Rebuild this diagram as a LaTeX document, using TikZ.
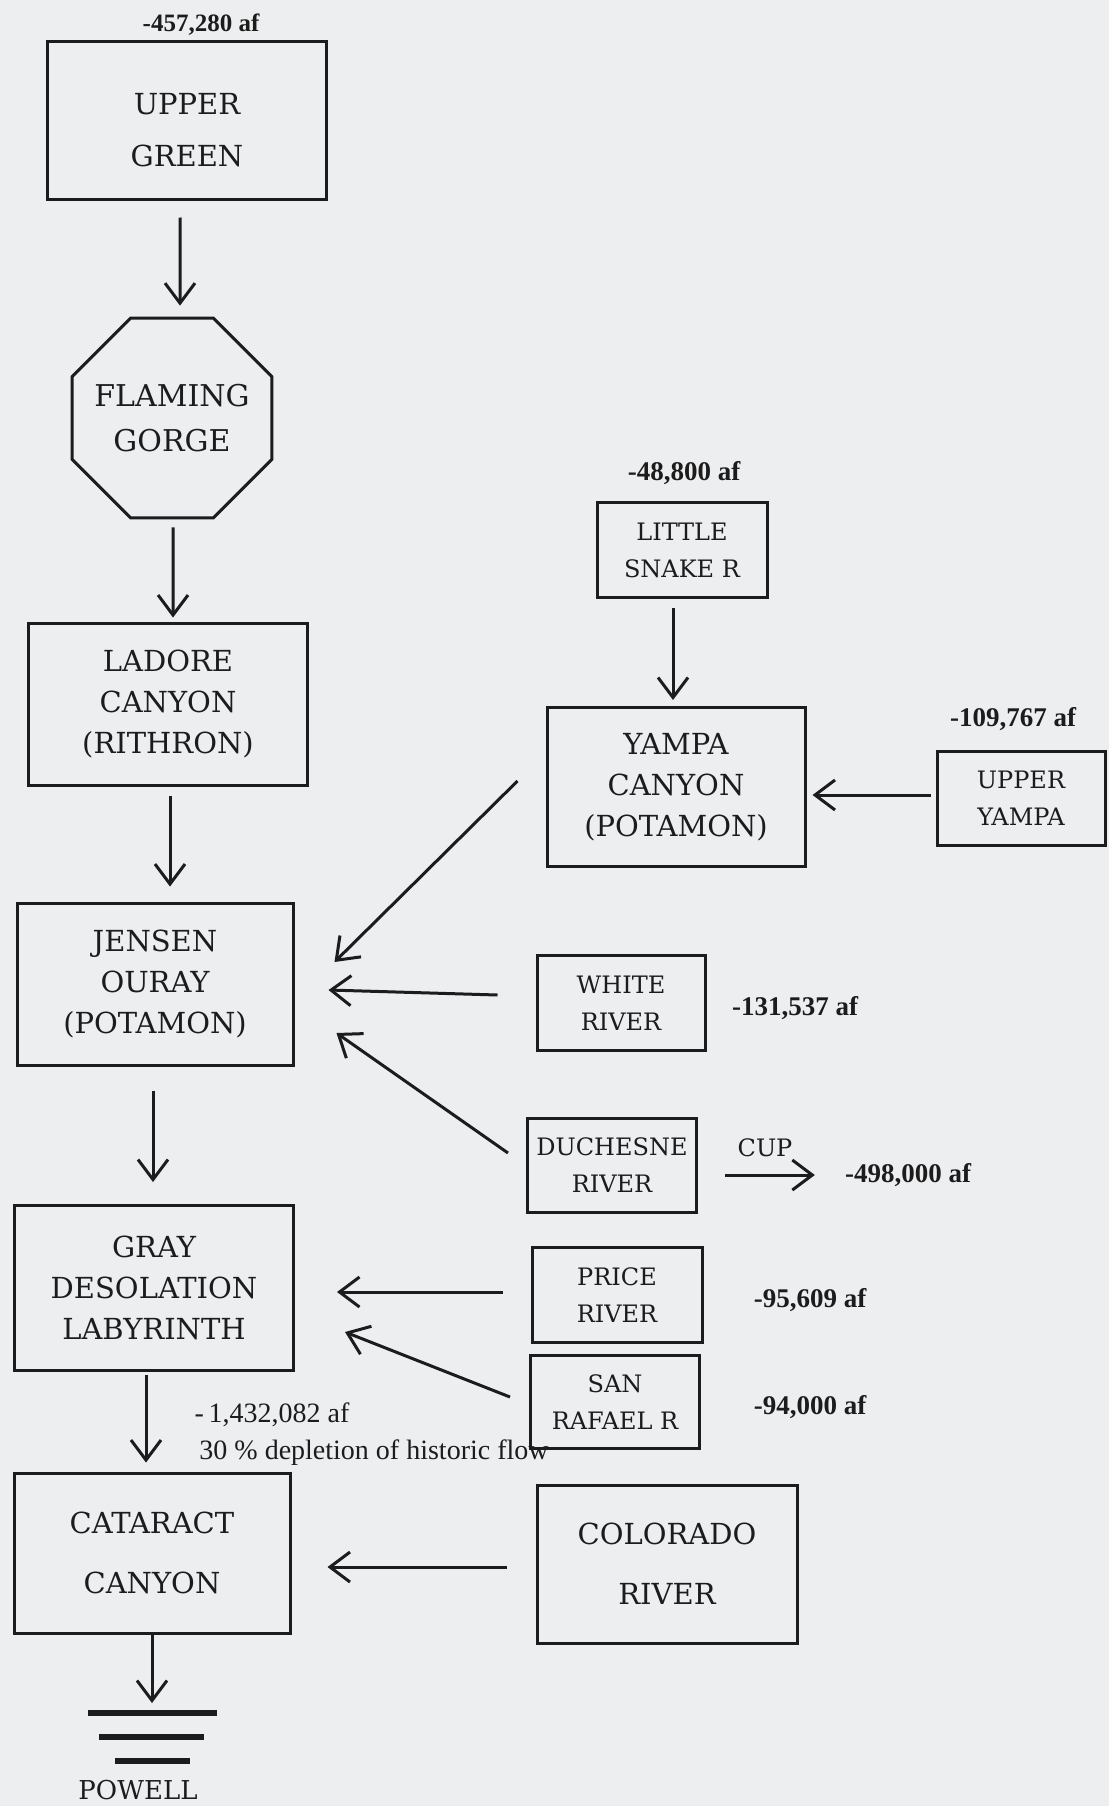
\documentclass[tikz,border=0pt]{standalone}
\usepackage{fontspec}
\setmainfont{DejaVu Serif}
\newfontfamily\amtfont{Liberation Serif}
\usetikzlibrary{arrows.meta,shapes.geometric}
\definecolor{pp}{RGB}{237, 238, 240}
\definecolor{kk}{RGB}{28, 28, 28}
\tikzset{
  bigbox/.style={rectangle, draw=kk, text=kk, line width=3pt, align=center, inner sep=0pt, font=\fontsize{29}{41}\selectfont},
  smallbox/.style={rectangle, draw=kk, text=kk, line width=3pt, align=center, inner sep=0pt, font=\fontsize{24}{37}\selectfont},
  amount/.style={inner sep=0pt, text=kk, font=\amtfont\bfseries\fontsize{27}{30}\selectfont},
  note/.style={inner sep=0pt, text=kk, font=\amtfont\fontsize{28}{30}\selectfont},
  flow/.style={line width=3pt, color=kk, -{Straight Barb[length=20pt,width=30pt]}}
}
\begin{document}
\begin{tikzpicture}
\fill [pp] (0pt,0pt) rectangle (1109pt,-1806pt);
\useasboundingbox (0pt,0pt) rectangle (1109pt,-1806pt);
\node (1) [bigbox, minimum width=279pt, minimum height=158pt] at (187pt, -121pt) {\rule{0pt}{39pt}UPPER\\[11pt]GREEN};
\node (2) [regular polygon, regular polygon sides=8, minimum size=200pt, draw=kk, text=kk, line width=3pt, align=center, inner sep=-7pt, font=\fontsize{30}{45}\selectfont] at (172pt, -418pt) {FLAMING\\GORGE};
\node (3) [bigbox, minimum width=279pt, minimum height=162pt] at (168pt, -704pt) {LADORE\\CANYON\\(RITHRON)};
\node (4) [bigbox, minimum width=276pt, minimum height=162pt] at (155pt, -984pt) {JENSEN\\OURAY\\(POTAMON)};
\node (5) [bigbox, minimum width=279pt, minimum height=165pt] at (154pt, -1288pt) {GRAY\\DESOLATION\\LABYRINTH};
\node (6) [bigbox, minimum width=276pt, minimum height=160pt] at (152pt, -1553pt) {CATARACT\\[19pt]CANYON};
\node (7) [smallbox, minimum width=170pt, minimum height=95pt] at (682pt, -550pt) {LITTLE\\SNAKE R};
\node (8) [bigbox, minimum width=258pt, minimum height=159pt] at (676pt, -787pt) {YAMPA\\CANYON\\(POTAMON)};
\node (9) [smallbox, minimum width=168pt, minimum height=94pt] at (1021pt, -798pt) {UPPER\\YAMPA};
\node (10) [smallbox, minimum width=168pt, minimum height=95pt] at (621pt, -1003pt) {WHITE\\RIVER};
\node (11) [smallbox, minimum width=169pt, minimum height=94pt] at (612pt, -1165pt) {DUCHESNE\\RIVER};
\node (12) [smallbox, minimum width=170pt, minimum height=95pt] at (617pt, -1295pt) {PRICE\\RIVER};
\node (13) [smallbox, minimum width=169pt, minimum height=93pt] at (615pt, -1402pt) {SAN\\RAFAEL R};
\node (14) [bigbox, minimum width=260pt, minimum height=158pt] at (667pt, -1564pt) {COLORADO\\[19pt]RIVER};
\node (15) [amount, font=\amtfont\bfseries\fontsize{25}{30}\selectfont] at (201pt, -25pt) {-457,280 af};
\node (16) [amount] at (684pt, -473pt) {-48,800 af};
\node (17) [amount] at (1013pt, -719pt) {-109,767 af};
\node (18) [amount] at (795pt, -1008pt) {-131,537 af};
\node (19) [inner sep=0pt, text=kk, font=\fontsize{24}{28}\selectfont] at (765pt, -1148pt) {CUP};
\node (20) [amount] at (908pt, -1175pt) {-498,000 af};
\node (21) [amount] at (810pt, -1300pt) {-95,609 af};
\node (22) [amount] at (810pt, -1407pt) {-94,000 af};
\node (23) [note] at (272pt, -1415pt) {-\,1,432,082 af};
\node (24) [note] at (374pt, -1453pt) {30 \% depletion of historic flow};
\node (25) [inner sep=0pt, text=kk, font=\fontsize{26}{30}\selectfont] at (138pt, -1790pt) {POWELL};
\coordinate (26) at (152pt, -1703pt);
\draw [line width=6pt, color=kk] (88pt, -1713pt) -- (217pt, -1713pt);
\draw [line width=6pt, color=kk] (99pt, -1737pt) -- (204pt, -1737pt);
\draw [line width=6pt, color=kk] (115pt, -1761pt) -- (190pt, -1761pt);
\draw [flow] ([shift={(-7pt,-16pt)}]1.south) -- ([shift={(8pt,11pt)}]2.north);
\draw [flow] ([shift={(1pt,-8pt)}]2.south) -- ([shift={(5pt,4pt)}]3.north);
\draw [flow] ([shift={(2pt,-9pt)}]3.south) -- ([shift={(15pt,15pt)}]4.north);
\draw [flow] ([shift={(-2pt,-24pt)}]4.south) -- ([shift={(-1pt,22pt)}]5.north);
\draw [flow] ([shift={(-8pt,-3pt)}]5.south) -- ([shift={(-6pt,9pt)}]6.north);
\draw [flow] (6.south) -- (26);
\draw [flow] ([shift={(-9pt,-9pt)}]7.south) -- ([shift={(-3pt,6pt)}]8.north);
\draw [flow] ([shift={(-5pt,3pt)}]9.west) -- ([shift={(6pt,-8pt)}]8.east);
\draw [flow] ([shift={(-28pt,6pt)}]8.west) -- ([shift={(40pt,22pt)}]4.east);
\draw [flow] ([shift={(-38pt,8pt)}]10.west) -- ([shift={(34pt,-6pt)}]4.east);
\draw [flow] ([shift={(-18pt,12pt)}]11.west) -- ([shift={(42pt,-49pt)}]4.east);
\draw [flow] ([shift={(27pt,-10pt)}]11.east) -- ([xshift=-30pt]20.west);
\draw [flow] ([shift={(-28pt,3pt)}]12.west) -- ([shift={(42pt,-4pt)}]5.east);
\draw [flow] ([shift={(-19pt,5pt)}]13.west) -- ([shift={(50pt,-44pt)}]5.east);
\draw [flow] ([shift={(-29pt,-3pt)}]14.west) -- ([shift={(36pt,-14pt)}]6.east);
\end{tikzpicture}
\end{document}
